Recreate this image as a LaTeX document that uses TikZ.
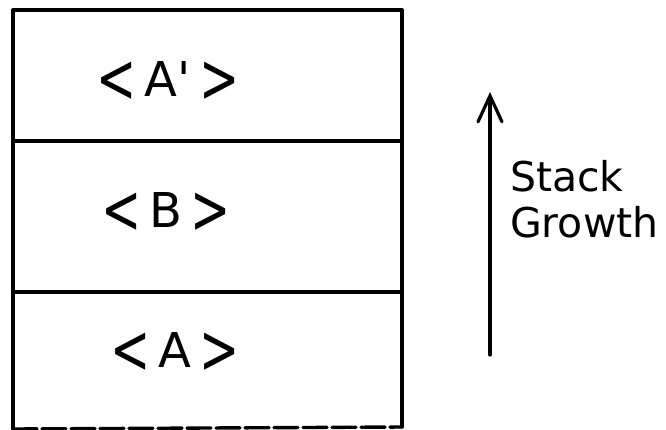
\documentclass[tikz,border=0pt]{standalone}
\usepackage{fontspec}
\setmainfont{DejaVu Sans}
\newfontfamily\lblfont{DejaVu Sans}
\usetikzlibrary{arrows.meta}
\newcommand{\lch}{\raisebox{-0.12em}{\scalebox{1}[1.45]{<}}}
\newcommand{\rch}{\raisebox{-0.12em}{\scalebox{1}[1.45]{>}}}
\begin{document}
\begin{tikzpicture}[x=1pt,y=-1pt,
  frame/.style={line width=3.4pt,line cap=round},
  lbl/.style={font=\lblfont\fontsize{48}{52}\selectfont,inner sep=0pt},
  side/.style={font=\fontsize{41}{46}\selectfont,align=left,inner sep=0pt}]
\useasboundingbox (0,0) rectangle (666,429);
\coordinate (tl) at (13,10);
\coordinate (tr) at (402,10);
\coordinate (m1l) at (13,141);
\coordinate (m1r) at (402,141);
\coordinate (m2l) at (13,292);
\coordinate (m2r) at (402,292);
\coordinate (bl) at (13,429);
\coordinate (br) at (402,427);
\draw[frame] (tl) -- (tr);
\draw[frame] (tl) -- (bl);
\draw[frame] (tr) -- (br);
\draw[frame] (m1l) -- (m1r);
\draw[frame] (m2l) -- (m2r);
\draw[frame,dash pattern=on 24pt off 5pt] (bl) -- (br);
\node[lbl] (ap) at (168,82) {\lch\,A'\,\rch};
\node[lbl] (b) at (166,213) {\lch\,B\,\rch};
\node[lbl] (a) at (175,353) {\lch\,A\,\rch};
\coordinate (arrlo) at (490,355);
\coordinate (arrhi) at (490,92);
\draw[line width=3.2pt,line cap=round,-{Straight Barb[length=26pt,width=24pt,line width=3.2pt,line cap=round]}] (arrlo) -- (arrhi);
\node[side,anchor=north west] (sg) at (510,160) {Stack\\Growth};
\end{tikzpicture}
\end{document}
